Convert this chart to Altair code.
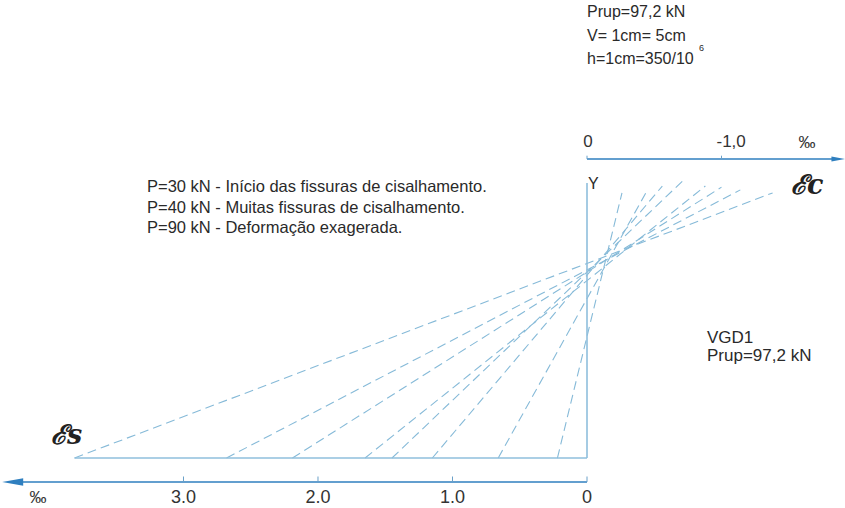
import altair as alt
import pandas as pd

# Strain profiles of beam VGD1 (values in per mille, heights as fraction of section)
steel_strain = [3.81, 2.68, 2.19, 1.65, 1.45, 1.15, 0.66, 0.22]   # bottom fibre (tension)
conc_strain = [1.38, 1.14, 1.00, 0.88, 0.71, 0.56, 0.45, 0.26]    # top fibre (compression)
top_height = [0.964, 0.975, 0.985, 0.989, 1.007, 0.989, 0.975, 0.964]

steel_ticks = [0.0, 1.0, 2.0, 3.0]
steel_tick_labels = ["0", "1.0", "2.0", "3.0"]
conc_ticks = [0.0, 1.0]
conc_tick_labels = ["0", "-1,0"]

notes = [
    "P=30 kN - Início das fissuras de cisalhamento.",
    "P=40 kN - Muitas  fissuras de cisalhamento.",
    "P=90 kN - Deformação exagerada.",
]
scale_notes = ["Prup=97,2 kN", "V= 1cm= 5cm", "h=1cm=350/10"]
beam_label = ["VGD1", "Prup=97,2 kN"]

W, H = 845, 508
xs = alt.Scale(domain=[-4.3643, 1.9182], nice=False, zero=False)
ys = alt.Scale(domain=[-0.1818, 1.6655], nice=False, zero=False)

AXIS_BLUE = "#2f7fbf"
LIGHT_BLUE = "#8fbfdc"
DASH_BLUE = "#86bad8"
FONT = "Liberation Sans"
BOT_AXIS_H = -0.0873
TOP_AXIS_H = 1.0873

profiles = pd.DataFrame({
    "xs": [-s for s in steel_strain],
    "xc": conc_strain,
    "h0": [0.0] * len(steel_strain),
    "h1": top_height,
})

lines = alt.Chart(profiles).mark_rule(
    color=DASH_BLUE, strokeWidth=1.1, strokeDash=[9, 5]
).encode(
    x=alt.X("xs:Q", scale=xs, axis=None),
    x2="xc:Q",
    y=alt.Y("h0:Q", scale=ys, axis=None),
    y2="h1:Q",
)

# section outline: bottom fibre and vertical Y axis
section = pd.DataFrame({
    "x": [-max(steel_strain), 0.0],
    "x2": [0.0, 0.0],
    "y": [0.0, 0.0],
    "y2": [0.0, 1.0],
})
section_rules = alt.Chart(section).mark_rule(color=LIGHT_BLUE, strokeWidth=1.6).encode(
    x=alt.X("x:Q", scale=xs), x2="x2:Q",
    y=alt.Y("y:Q", scale=ys), y2="y2:Q",
)

# axis lines
axes = pd.DataFrame({
    "x": [0.0, 0.0],
    "x2": [-4.20, 1.84],
    "y": [BOT_AXIS_H, TOP_AXIS_H],
})
axis_rules = alt.Chart(axes).mark_rule(color=AXIS_BLUE, strokeWidth=1.3).encode(
    x=alt.X("x:Q", scale=xs), x2="x2:Q",
    y=alt.Y("y:Q", scale=ys),
)

arrows = pd.DataFrame({
    "x": [-4.27, 1.87],
    "y": [BOT_AXIS_H, TOP_AXIS_H],
    "shape": ["M -1 0 L 1 -0.36 L 1 0.36 Z", "M 1 0 L -1 -0.36 L -1 0.36 Z"],
    "size": [440, 200],
})
arrow_marks = alt.Chart(arrows).mark_point(filled=True, color=AXIS_BLUE, opacity=1).encode(
    x=alt.X("x:Q", scale=xs),
    y=alt.Y("y:Q", scale=ys),
    shape=alt.Shape("shape:N", scale=None),
    size=alt.Size("size:Q", scale=None),
)

# ticks
bt = pd.DataFrame({"x": [-t for t in steel_ticks], "y": [BOT_AXIS_H] * 4,
                   "y2": [BOT_AXIS_H + 0.02] * 4, "label": steel_tick_labels})
tt = pd.DataFrame({"x": conc_ticks, "y": [TOP_AXIS_H] * 2,
                   "y2": [TOP_AXIS_H + 0.012] * 2, "label": conc_tick_labels})
ticks = alt.Chart(pd.concat([bt, tt])).mark_rule(color="#6aa0c8", strokeWidth=1).encode(
    x=alt.X("x:Q", scale=xs), y=alt.Y("y:Q", scale=ys), y2="y2:Q",
)


def text_block(lines_, x, y0, step, size=14, color="#2a2a2a", font=FONT, **kw):
    df = pd.DataFrame({"t": lines_, "i": list(range(len(lines_)))})
    return alt.Chart(df).mark_text(
        font=font, fontSize=size, color=color, align="left", baseline="middle", **kw
    ).transform_calculate(py=f"{y0} + datum.i * {step}").encode(
        x=alt.value(x), y=alt.Y("py:Q", scale=None), text="t:N"
    )


def one_text(t, x, y, size=14, color="#2a2a2a", align="left", font=FONT, **kw):
    return alt.Chart(pd.DataFrame({"t": [t]})).mark_text(
        font=font, fontSize=size, color=color, align=align, baseline="middle", **kw
    ).encode(x=alt.value(x), y=alt.value(y), text="t:N")


top_label_base = alt.Chart(tt)
layers = [
    lines, section_rules, axis_rules, arrow_marks, ticks,
    alt.Chart(bt).mark_text(font=FONT, fontSize=18, color="#333333", baseline="middle").encode(
        x=alt.X("x:Q", scale=xs), y=alt.value(498), text="label:N"),
    top_label_base.transform_filter(alt.datum.x == 0).mark_text(
        font=FONT, fontSize=17, color="#333333", baseline="middle", dx=1
    ).encode(x=alt.X("x:Q", scale=xs), y=alt.value(142), text="label:N"),
    top_label_base.transform_filter(alt.datum.x != 0).mark_text(
        font=FONT, fontSize=17, color="#333333", baseline="middle", align="left", dx=-5
    ).encode(x=alt.X("x:Q", scale=xs), y=alt.value(142), text="label:N"),
    one_text("‰", 38, 498, size=17, color="#333333", align="center"),
    one_text("‰", 807, 143, size=17, color="#333333", align="center"),
    text_block(notes, 147, 187, 20.5, size=16.5),
    text_block(scale_notes, 587, 12, 23.5, size=16),
    one_text("6", 699, 48, size=9),
    text_block(beam_label, 707, 338, 18, size=17),
    one_text("Y", 588, 184, size=16, color="#2a2a2a"),
    one_text("ℰc", 791, 186, size=27, color="#222222", font="DejaVu Serif",
             fontStyle="italic", fontWeight="bold"),
    one_text("ℰs", 51, 436, size=27, color="#222222", font="DejaVu Serif",
             fontStyle="italic", fontWeight="bold"),
]

chart = alt.layer(*layers).properties(
    width=W, height=H,
    autosize=alt.AutoSizeParams(type="none"),
    padding=0,
    background="white",
).configure_view(stroke=None)

chart.save("out.html", embed_options={"renderer": "svg", "actions": False})
